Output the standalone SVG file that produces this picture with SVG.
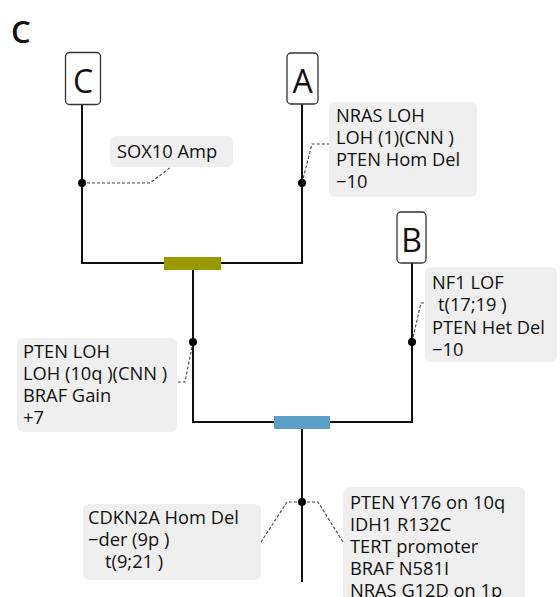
<svg xmlns="http://www.w3.org/2000/svg" width="560" height="597" viewBox="0 0 560 597">
<style>
text{font-family:"Open Sans","Noto Sans","DejaVu Sans",sans-serif;fill:#111;white-space:pre}
.lbl{font-size:18.3px}
.node rect{fill:#fff;stroke:#333;stroke-width:1.3}
.node text{font-size:32px;text-anchor:middle}
.tree{stroke:#111;stroke-width:2;fill:none}
.lead{stroke:#444;stroke-width:1.1;fill:none;stroke-dasharray:3 2}
.box{fill:#efefef}
.dot{fill:#000}
</style>
<rect width="560" height="597" fill="#fff"/>
<text x="11" y="43" style="font-size:31px;font-weight:600">C</text>

<g id="connectors">
  <path class="tree" d="M82,105 V263 H302 V104"/>
  <path class="tree" d="M193,263 V422 H412 V263"/>
  <path class="tree" d="M302,422 V582"/>
  <rect x="164" y="257" width="57" height="13" fill="#999900"/>
  <rect x="274" y="416" width="56" height="13" fill="#5b9fc8"/>
  <path class="lead" d="M82,183 H150 L171,167"/>
  <path class="lead" d="M302,183 L312,144 H329"/>
  <path class="lead" d="M412,342 L421,303 H425"/>
  <path class="lead" d="M193,342 L185,382 H177"/>
  <path class="lead" d="M302,502 H287 L261,542"/>
  <path class="lead" d="M302,502 H318 L343,542"/>
  <circle class="dot" cx="82" cy="183" r="4"/>
  <circle class="dot" cx="302" cy="183" r="4"/>
  <circle class="dot" cx="412" cy="342" r="4"/>
  <circle class="dot" cx="193" cy="342" r="4"/>
  <circle class="dot" cx="302" cy="502" r="4"/>
</g>

<g id="node-C" class="node">
  <rect x="65.5" y="52.5" width="35" height="52" rx="4"/>
  <text x="83" y="93">C</text>
</g>
<g id="node-A" class="node">
  <rect x="287" y="53" width="31" height="51" rx="4"/>
  <text x="302.5" y="93">A</text>
</g>
<g id="node-B" class="node">
  <rect x="397" y="212" width="29" height="51" rx="4"/>
  <text x="411.5" y="252">B</text>
</g>

<g id="label-sox10">
  <rect class="box" x="110" y="136" width="123" height="31" rx="6"/>
  <text class="lbl" x="117" y="158">SOX10 Amp</text>
</g>
<g id="label-A">
  <rect class="box" x="329" y="102" width="148" height="95" rx="6"/>
  <text class="lbl" x="336" y="122">NRAS LOH</text>
  <text class="lbl" x="336" y="144">LOH (1)(CNN )</text>
  <text class="lbl" x="336" y="166">PTEN Hom Del</text>
  <text class="lbl" x="336" y="188">−10</text>
</g>
<g id="label-B">
  <rect class="box" x="425" y="267" width="132" height="95" rx="6"/>
  <text class="lbl" x="432" y="289">NF1 LOF</text>
  <text class="lbl" x="438" y="311">t(17;19 )</text>
  <text class="lbl" x="432" y="334">PTEN Het Del</text>
  <text class="lbl" x="432" y="356">−10</text>
</g>
<g id="label-trunk-left">
  <rect class="box" x="17" y="338" width="160" height="94" rx="6"/>
  <text class="lbl" x="23" y="358">PTEN LOH</text>
  <text class="lbl" x="23" y="380">LOH (10q )(CNN )</text>
  <text class="lbl" x="23" y="402">BRAF Gain</text>
  <text class="lbl" x="23" y="424">+7</text>
</g>
<g id="label-root-left">
  <rect class="box" x="83" y="504" width="178" height="76" rx="6"/>
  <text class="lbl" x="88" y="524">CDKN2A Hom Del</text>
  <text class="lbl" x="88" y="546">−der (9p )</text>
  <text class="lbl" x="105" y="568">t(9;21 )</text>
</g>
<g id="label-root-right">
  <rect class="box" x="343" y="487" width="182" height="125" rx="6"/>
  <text class="lbl" x="350" y="509">PTEN Y176 on 10q</text>
  <text class="lbl" x="350" y="531">IDH1 R132C</text>
  <text class="lbl" x="350" y="553">TERT promoter</text>
  <text class="lbl" x="350" y="575">BRAF N581I</text>
  <text class="lbl" x="350" y="597">NRAS G12D on 1p</text>
</g>
</svg>
